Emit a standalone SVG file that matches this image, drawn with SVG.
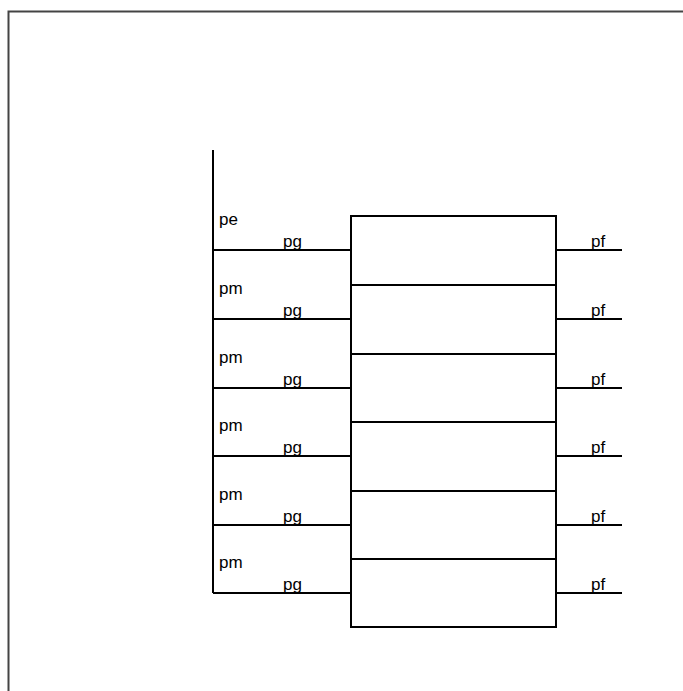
<svg xmlns="http://www.w3.org/2000/svg" width="683" height="691" viewBox="0 0 683 691">
<style>
.ln{stroke:#000;stroke-width:1.5;fill:none;shape-rendering:crispEdges}
.t{font-family:"Liberation Sans",Arial,sans-serif;font-size:17px;fill:#000}
</style>
<rect width="683" height="691" fill="#fff"/>
<path d="M8.5,691 V11.5 H683" fill="none" stroke="#444" stroke-width="2"/>
<g id="connectors">
<path class="ln" d="M213,150 V593"/>
<path class="ln" d="M213,250 H351 M213,319 H351 M213,388 H351 M213,456 H351 M213,525 H351 M213,593 H351"/>
<path class="ln" d="M556,250 H622 M556,319 H622 M556,388 H622 M556,456 H622 M556,525 H622 M556,593 H622"/>
</g>
<g id="box">
<rect class="ln" x="351" y="216" width="205" height="411"/>
<path class="ln" d="M351,285 H556 M351,354 H556 M351,422 H556 M351,491 H556 M351,559 H556"/>
</g>
<g id="labels-left">
<text class="t" x="219" y="225">pe</text>
<text class="t" x="219" y="294">pm</text>
<text class="t" x="219" y="363">pm</text>
<text class="t" x="219" y="431">pm</text>
<text class="t" x="219" y="500">pm</text>
<text class="t" x="219" y="568">pm</text>
</g>
<g id="labels-pg">
<text class="t" x="283" y="247">pg</text>
<text class="t" x="283" y="316">pg</text>
<text class="t" x="283" y="385">pg</text>
<text class="t" x="283" y="453">pg</text>
<text class="t" x="283" y="522">pg</text>
<text class="t" x="283" y="590">pg</text>
</g>
<g id="labels-pf">
<text class="t" x="591" y="247">pf</text>
<text class="t" x="591" y="316">pf</text>
<text class="t" x="591" y="385">pf</text>
<text class="t" x="591" y="453">pf</text>
<text class="t" x="591" y="522">pf</text>
<text class="t" x="591" y="590">pf</text>
</g>
</svg>
